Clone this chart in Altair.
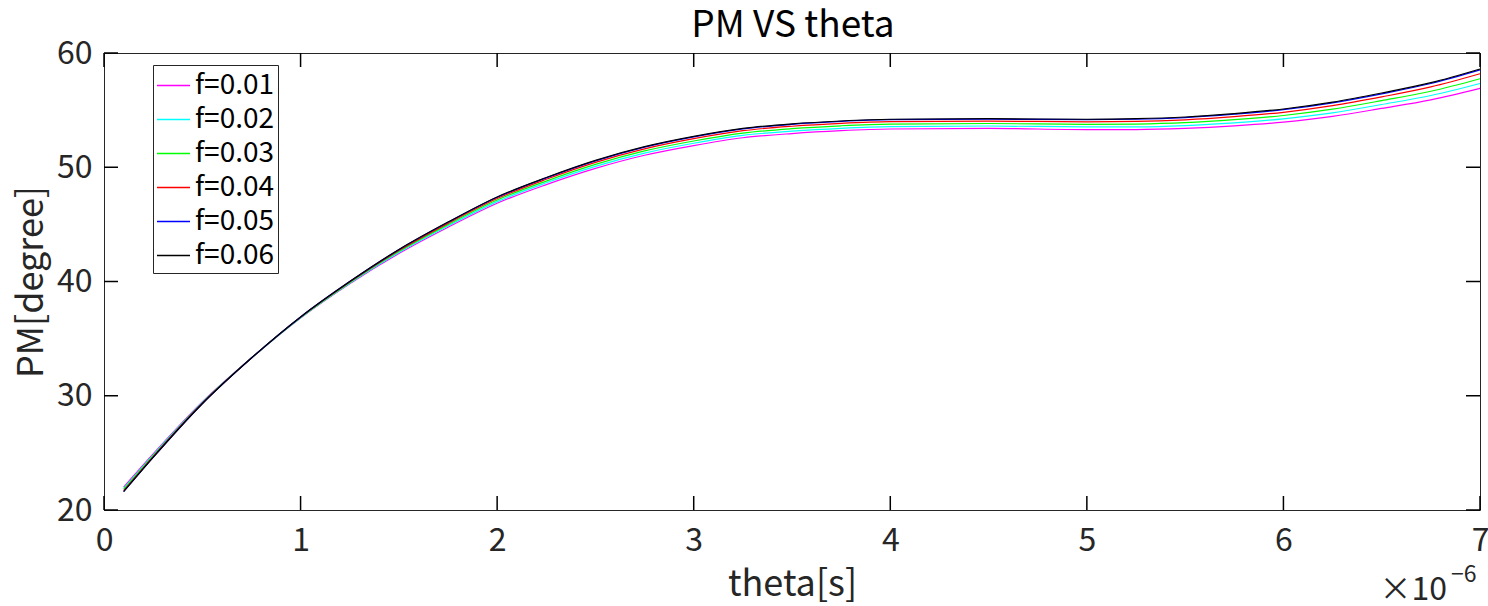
import altair as alt
import pandas as pd

# theta in units of 1e-6 s
theta = [0.1, 0.25, 0.5, 0.75, 1.0, 1.25, 1.5, 1.75, 2.0, 2.25, 2.5, 2.75, 3.0,
         3.25, 3.5, 3.75, 4.0, 4.5, 5.0, 5.25, 5.5, 5.75, 6.0, 6.25, 6.5, 6.75, 7.0]

pm_f001 = [22.0, 24.9, 29.45, 33.3, 36.8, 39.8, 42.45, 44.75, 46.85, 48.48, 49.9, 51.05, 51.9,
           52.58, 52.95, 53.2, 53.35, 53.4, 53.3, 53.3, 53.4, 53.62, 53.95, 54.45, 55.15, 55.9, 56.9]
pm_f002 = [21.9, 24.83, 29.41, 33.3, 36.83, 39.85, 42.54, 44.86, 46.99, 48.64, 50.08, 51.24, 52.1,
           52.79, 53.16, 53.41, 53.56, 53.61, 53.53, 53.54, 53.65, 53.89, 54.24, 54.76, 55.49, 56.28, 57.33]
pm_f003 = [21.8, 24.75, 29.38, 33.3, 36.85, 39.9, 42.63, 44.98, 47.13, 48.79, 50.25, 51.43, 52.3,
           52.99, 53.38, 53.63, 53.78, 53.83, 53.75, 53.78, 53.9, 54.16, 54.53, 55.08, 55.83, 56.65, 57.75]
pm_f004 = [21.7, 24.68, 29.34, 33.3, 36.88, 39.95, 42.71, 45.09, 47.26, 48.95, 50.43, 51.61, 52.5,
           53.2, 53.59, 53.84, 53.99, 54.04, 53.98, 54.01, 54.15, 54.43, 54.81, 55.39, 56.16, 57.03, 58.18]
pm_f005 = [21.62, 24.61, 29.3, 33.3, 36.9, 39.99, 42.78, 45.18, 47.37, 49.07, 50.56, 51.76, 52.66,
           53.36, 53.76, 54.01, 54.16, 54.21, 54.16, 54.2, 54.35, 54.65, 55.04, 55.64, 56.43, 57.33, 58.52]
pm_f006 = [21.6, 24.6, 29.3, 33.3, 36.9, 40.0, 42.8, 45.2, 47.4, 49.1, 50.6, 51.8, 52.7,
           53.4, 53.8, 54.05, 54.2, 54.25, 54.2, 54.25, 54.4, 54.7, 55.1, 55.7, 56.5, 57.4, 58.6]

series_labels = ["f=0.01", "f=0.02", "f=0.03", "f=0.04", "f=0.05", "f=0.06"]
series_colors = ["#ff00ff", "#00ffff", "#00ff00", "#ff0000", "#0000ff", "#000000"]
series_values = [pm_f001, pm_f002, pm_f003, pm_f004, pm_f005, pm_f006]

x_ticks = [0, 1, 2, 3, 4, 5, 6, 7]
y_ticks = [20, 30, 40, 50, 60]

FONT = "Noto Sans CJK JP"
INK = "#262626"
W, H = 1376, 457
TICK = 14

rows = []
for lab, vals in zip(series_labels, series_values):
    for t, v in zip(theta, vals):
        rows.append({"theta": t, "PM": v, "series": lab})
df = pd.DataFrame(rows)

xscale = alt.Scale(domain=[0, 7], nice=False, zero=False)
yscale = alt.Scale(domain=[20, 60], nice=False, zero=False)

lines = alt.Chart(df).mark_line(strokeWidth=1.2, interpolate="monotone").encode(
    x=alt.X("theta:Q", scale=xscale,
            axis=alt.Axis(values=x_ticks, title="theta[s]", format="d",
                          titleX=W / 2, titleY=85, titleBaseline="alphabetic")),
    y=alt.Y("PM:Q", scale=yscale,
            axis=alt.Axis(values=y_ticks, title="PM[degree]", format="d",
                          titleX=-62, titleY=H / 2, titleBaseline="alphabetic", titleAngle=270)),
    color=alt.Color("series:N",
                    scale=alt.Scale(domain=series_labels, range=series_colors),
                    legend=alt.Legend(title=None, orient="none", legendX=49, legendY=12,
                                      symbolType="stroke", symbolSize=1089, symbolStrokeWidth=1.5,
                                      labelFontSize=28, labelFont=FONT, labelColor="black",
                                      labelOffset=4, rowPadding=2, padding=3,
                                      strokeColor=INK, fillColor="white", cornerRadius=0)),
)

xt = pd.DataFrame({"theta": x_ticks})
yt = pd.DataFrame({"PM": y_ticks})

xtick_bottom = alt.Chart(xt).mark_rule(strokeWidth=1.5, color="black").encode(
    x=alt.X("theta:Q", scale=xscale), y=alt.value(H), y2=alt.value(H - TICK))
xtick_top = alt.Chart(xt).mark_rule(strokeWidth=1.5, color="black").encode(
    x=alt.X("theta:Q", scale=xscale), y=alt.value(0), y2=alt.value(TICK))
ytick_left = alt.Chart(yt).mark_rule(strokeWidth=1.5, color="black").encode(
    y=alt.Y("PM:Q", scale=yscale), x=alt.value(0), x2=alt.value(TICK))
ytick_right = alt.Chart(yt).mark_rule(strokeWidth=1.5, color="black").encode(
    y=alt.Y("PM:Q", scale=yscale), x=alt.value(W - TICK), x2=alt.value(W))

txt_df = pd.DataFrame({"base": ["×10"], "exp": ["−6"], "title": ["PM VS theta"]})
exp_base = alt.Chart(txt_df).mark_text(font=FONT, fontSize=32, align="right", color=INK,
                                       baseline="alphabetic").encode(
    x=alt.value(1343), y=alt.value(547), text="base:N")
exp_pow = alt.Chart(txt_df).mark_text(font=FONT, fontSize=23, align="left", color=INK,
                                      baseline="alphabetic").encode(
    x=alt.value(1347), y=alt.value(529), text="exp:N")
title_mark = alt.Chart(txt_df).mark_text(font=FONT, fontSize=37, align="center", color="black",
                                         baseline="alphabetic").encode(
    x=alt.value(W / 2 + 1), y=alt.value(-16), text="title:N")

chart = alt.layer(lines, xtick_bottom, xtick_top, ytick_left, ytick_right,
                  exp_base, exp_pow, title_mark).properties(
    width=W, height=H,
    autosize=alt.AutoSizeParams(type="none"),
    padding={"left": 104, "top": 53, "right": 8, "bottom": 96},
    background="white",
).configure_view(stroke=INK, strokeWidth=1).configure_axis(
    domain=False, grid=False, ticks=False, labelFlush=False,
    labelFont=FONT, labelFontSize=32, labelColor=INK,
    titleFont=FONT, titleFontSize=36, titleFontWeight="normal", titleColor=INK,
).configure_axisX(labelPadding=15).configure_axisY(labelPadding=12)

chart.save("out.html", embed_options={"renderer": "svg", "actions": False})
